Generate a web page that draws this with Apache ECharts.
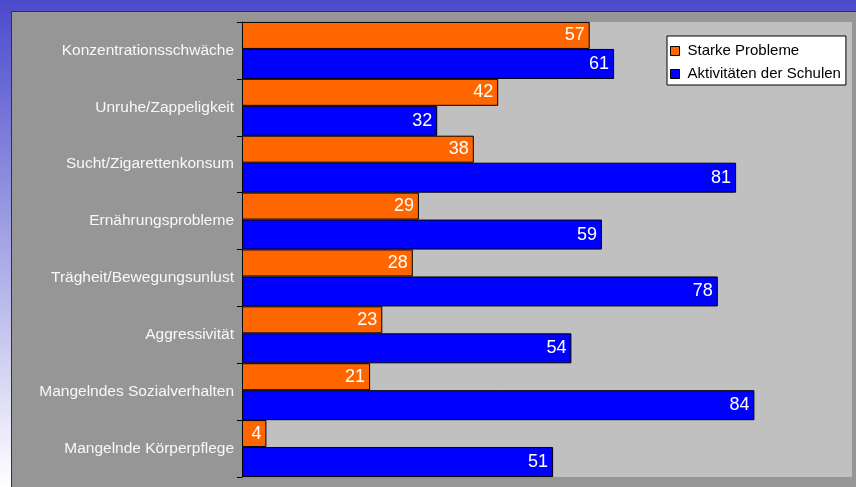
<!DOCTYPE html>
<html><head><meta charset="utf-8">
<script src="https://cdn.jsdelivr.net/npm/echarts@6/dist/echarts.min.js"></script>
<style>html,body{margin:0;padding:0;}#c{width:856px;height:487px;}</style>
</head><body><div id="c"></div>
<script>
const categories = ['Konzentrationsschwäche','Unruhe/Zappeligkeit','Sucht/Zigarettenkonsum','Ernährungsprobleme','Trägheit/Bewegungsunlust','Aggressivität','Mangelndes Sozialverhalten','Mangelnde Körperpflege'];
const starkeProbleme = [57,42,38,29,28,23,21,4];
const aktivitaeten = [61,32,81,59,78,54,84,51];
const seriesNames = ['Starke Probleme','Aktivitäten der Schulen'];

const chart = echarts.init(document.getElementById('c'));
const font = '"Liberation Sans", Arial, sans-serif';
chart.setOption({
  animation: false,
  backgroundColor: new echarts.graphic.LinearGradient(0,0,0,1,[{offset:0,color:'#4a4acc'},{offset:1,color:'#ffffff'}]),
  textStyle: {fontFamily: font},
  graphic: {elements: [{type:'rect', z:-100, shape:{x:11.5,y:11.5,width:860,height:490}, style:{fill:'#969696',stroke:'#333333',lineWidth:1}}]},
  grid: {left:242, right:4, top:22, bottom:10, show:true, backgroundColor:'#c0c0c0', borderWidth:0},
  legend: {
    orient:'vertical', left:667, top:36, data: seriesNames,
    backgroundColor:'#ffffff', borderColor:'#000000', borderWidth:1,
    padding:[7,5,3,3], itemGap:7, itemWidth:15, itemHeight:9,
    icon:'path://M0,0h9v9h-9z',
    itemStyle:{borderColor:'#000000', borderWidth:1},
    textStyle:{fontSize:15, color:'#000000', lineHeight:16, fontFamily:font}
  },
  xAxis: {type:'value', min:0, max:100, show:false, splitLine:{show:false}},
  yAxis: {type:'category', data:categories, inverse:true,
    axisLine:{show:true, lineStyle:{color:'#000000', width:1}},
    axisTick:{show:true, length:5, lineStyle:{color:'#000000'}},
    axisLabel:{color:'#f8f8f8', fontSize:15.5, margin:8, fontFamily:font, padding:[3,0,0,0]}
  },
  series: [
    {name:seriesNames[0], type:'bar', data:starkeProbleme, barWidth:27, barGap:'0%',
     itemStyle:{color:'#ff6600', borderColor:'#000000', borderWidth:1},
     label:{show:true, position:'insideRight', color:'#ffffff', fontSize:18, distance:5, fontFamily:font}},
    {name:seriesNames[1], type:'bar', data:aktivitaeten, barWidth:30, barGap:'0%',
     itemStyle:{color:'#0000ff', borderColor:'#000000', borderWidth:1},
     label:{show:true, position:'insideRight', color:'#ffffff', fontSize:18, distance:5, fontFamily:font}}
  ]
});
</script></body></html>
